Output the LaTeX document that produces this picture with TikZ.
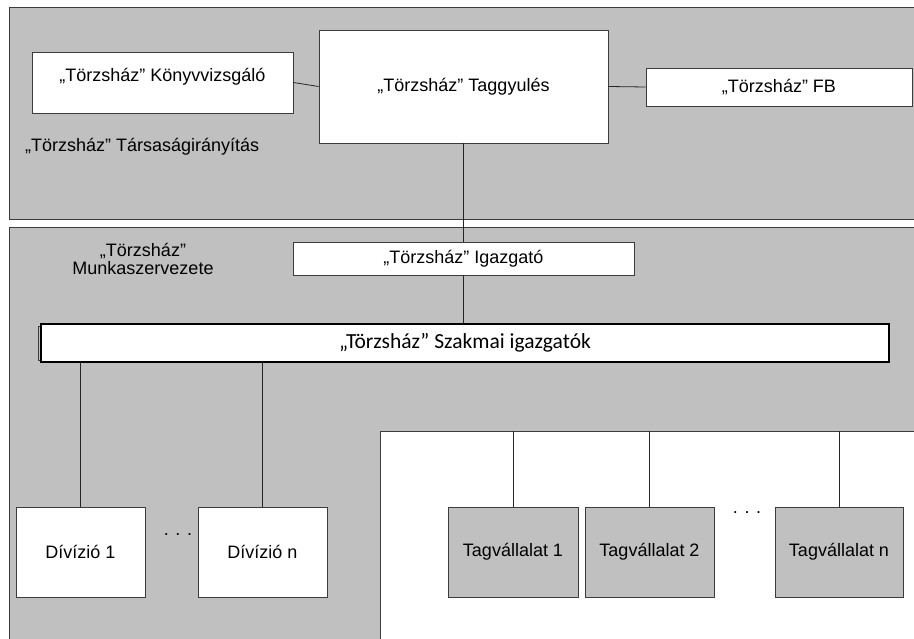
\documentclass[tikz,border=0pt]{standalone}
\usepackage{fontspec}
\setmainfont{Liberation Sans}
\newfontfamily\calibrifont{Carlito}
\definecolor{panelgray}{RGB}{192,192,192}
\definecolor{edgegray}{RGB}{60,60,60}
\begin{document}
\begin{tikzpicture}[x=1pt,y=-1pt,font=\fontsize{18}{18}\selectfont,
		panel/.style={fill=panelgray,draw=edgegray,line width=0.8pt},
		box/.style={draw=edgegray,fill=white,line width=0.8pt,inner sep=0pt,align=center},
		graybox/.style={box,fill=panelgray},
		conn/.style={draw=black!85,line width=0.8pt}]
		\useasboundingbox (0,0) rectangle (914,639);
		\clip (0,0) rectangle (914,639);
		\draw[panel] (9,7) rectangle (920,219);
		\draw[panel] (9,227) rectangle (920,645);
		\fill[white] (380,431) rectangle (920,645);
		\draw[edgegray,line width=0.8pt] (380,645) |- (920,431);
		\coordinate (tagtop) at (380,431);
		\node[box,minimum width=261pt,minimum height=61pt] (konyv) at (162.5,82.5) {„Törzsház” Könyvvizsgáló\\[-8pt] \strut};
		\node[box,minimum width=289pt,minimum height=113pt] (tagy) at (463.5,86.5) {\raisebox{-2pt}{„Törzsház” Taggyulés}};
		\node[box,minimum width=266pt,minimum height=38pt] (fb) at (779,87) {„Törzsház” FB};
		\node[anchor=west,inner sep=0pt] (tarsas) at (25,147) {„Törzsház” Társaságirányítás};
		\node[align=center,inner sep=0pt] (munka) at (143,259) {„Törzsház”\\Munkaszervezete};
		\node[box,minimum width=341pt,minimum height=33pt] (igaz) at (463.5,258.5) {„Törzsház” Igazgató};
		\draw[edgegray,line width=0.6pt] (38,326) rectangle (41,360);
		\node[box,draw=black,line width=1.2pt,minimum width=848pt,minimum height=38pt,font=\calibrifont\fontsize{21.5}{21.5}\selectfont] (szak) at (465,343) {„Törzsház” Szakmai igazgatók};
		\node[box,minimum width=129pt,minimum height=90pt] (div1) at (80.5,552) {Dívízió 1};
		\node[box,minimum width=129pt,minimum height=90pt] (divn) at (262.5,552) {Dívízió n};
		\node[anchor=base] (divdots) at (178,535) {. . .};
		\node[graybox,minimum width=130pt,minimum height=90pt] (tag1) at (513,552) {Tagvállalat 1};
		\node[graybox,minimum width=129pt,minimum height=90pt] (tag2) at (649.5,552) {Tagvállalat 2};
		\node[graybox,minimum width=128pt,minimum height=90pt] (tagn) at (839,552) {Tagvállalat n};
		\node[anchor=base] (tagdots) at (747,513) {. . .};
		\draw[conn] (konyv.east) -- (tagy.west);
		\draw[conn] (tagy.east) -- (fb.west);
		\draw[conn] (tagy.south) -- (igaz.north);
		\draw[conn] (igaz.south) -- (igaz.south |- szak.north);
		\draw[conn] (div1.north) -- (div1.north |- szak.south);
		\draw[conn] (divn.north) -- (divn.north |- szak.south);
		\draw[conn] (tag1.north) -- (tag1.north |- tagtop);
		\draw[conn] (tag2.north) -- (tag2.north |- tagtop);
		\draw[conn] (tagn.north) -- (tagn.north |- tagtop);
	\end{tikzpicture}
\end{document}
